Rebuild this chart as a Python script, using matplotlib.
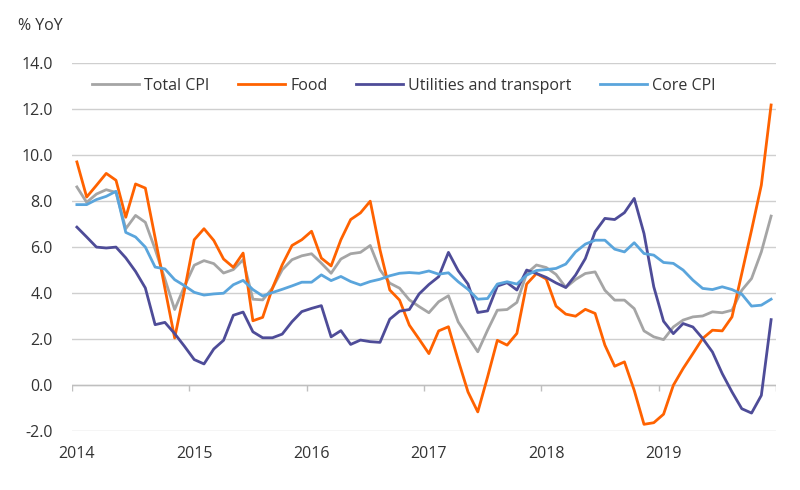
import numpy as np
from matplotlib import pyplot as plt

plt.rcParams['font.family'] = ['Open Sans', 'DejaVu Sans']

years = ["2014", "2015", "2016", "2017", "2018", "2019"]

total_cpi = [8.61, 7.94, 8.30, 8.49, 8.37, 6.79, 7.37, 7.07, 5.90, 4.60,
             3.27, 4.28, 5.20, 5.40, 5.27, 4.86, 5.01, 5.44, 3.72, 3.69,
             4.20, 5.00, 5.44, 5.61, 5.70, 5.29, 4.85, 5.47, 5.70, 5.76,
             6.06, 5.00, 4.42, 4.20, 3.69, 3.40, 3.13, 3.61, 3.87, 2.73,
             2.08, 1.43, 2.37, 3.24, 3.27, 3.58, 4.84, 5.21, 5.10, 4.80,
             4.23, 4.58, 4.84, 4.91, 4.11, 3.68, 3.68, 3.31, 2.34, 2.08,
             1.96, 2.51, 2.81, 2.95, 2.99, 3.17, 3.13, 3.24, 4.11, 4.62,
             5.78, 7.34]

food = [9.70, 8.17, 8.68, 9.20, 8.90, 7.29, 8.74, 8.56, 6.40, 4.20,
        2.03, 4.10, 6.31, 6.79, 6.28, 5.47, 5.11, 5.73, 2.78, 2.93,
        4.20, 5.22, 6.06, 6.31, 6.68, 5.51, 5.17, 6.31, 7.19, 7.48,
        7.99, 5.87, 4.12, 3.68, 2.59, 1.98, 1.35, 2.34, 2.52, 1.06,
        -0.32, -1.19, 0.33, 1.93, 1.72, 2.23, 4.38, 4.84, 4.60, 3.42,
        3.07, 2.98, 3.28, 3.10, 1.72, 0.80, 0.99, -0.25, -1.73, -1.66,
        -1.29, -0.03, 0.70, 1.35, 2.01, 2.37, 2.34, 2.95, 4.84, 6.73,
        8.69, 12.18]

utilities = [6.86, 6.43, 5.99, 5.95, 5.99, 5.52, 4.93, 4.21, 2.61, 2.71,
             2.22, 1.67, 1.09, 0.90, 1.55, 1.93, 3.02, 3.16, 2.30, 2.04,
             2.04, 2.20, 2.74, 3.18, 3.32, 3.44, 2.08, 2.35, 1.75, 1.94,
             1.87, 1.84, 2.85, 3.20, 3.27, 3.95, 4.36, 4.70, 5.76, 4.96,
             4.38, 3.14, 3.21, 4.29, 4.44, 4.12, 4.99, 4.84, 4.67, 4.43,
             4.23, 4.77, 5.49, 6.66, 7.24, 7.19, 7.49, 8.11, 6.58, 4.26,
             2.76, 2.22, 2.66, 2.51, 2.01, 1.42, 0.48, -0.32, -1.05, -1.24,
             -0.47, 2.83]

core_cpi = [7.84, 7.84, 8.06, 8.20, 8.42, 6.63, 6.43, 5.99, 5.12, 5.04,
            4.57, 4.31, 4.02, 3.90, 3.95, 3.98, 4.35, 4.54, 4.14, 3.86,
            4.01, 4.15, 4.30, 4.46, 4.46, 4.78, 4.53, 4.71, 4.49, 4.34,
            4.49, 4.59, 4.74, 4.85, 4.88, 4.85, 4.95, 4.81, 4.87, 4.48,
            4.15, 3.72, 3.75, 4.38, 4.48, 4.38, 4.77, 4.97, 5.01, 5.06,
            5.25, 5.78, 6.12, 6.29, 6.29, 5.90, 5.78, 6.18, 5.71, 5.64,
            5.32, 5.28, 4.99, 4.55, 4.19, 4.14, 4.26, 4.14, 3.94, 3.42,
            3.46, 3.72]

x = np.arange(len(total_cpi))
txt = "#333333"
grid = "#CFCFCF"

fig = plt.figure(figsize=(8, 4.9), dpi=100)
ax = fig.add_axes([0.09, 0.1214, 0.88, 0.7496])

ax.plot(x, total_cpi, color="#A5A5A5", lw=2, label="Total CPI")
ax.plot(x, food, color="#FF6200", lw=2, label="Food")
ax.plot(x, utilities, color="#4E4C98", lw=2, label="Utilities and transport")
ax.plot(x, core_cpi, color="#5AA5DC", lw=2, label="Core CPI")

ax.set_xlim(-0.5, len(x) - 0.5)
ax.set_ylim(-2, 14)
ax.set_yticks(np.arange(-2, 15, 2))
ax.set_yticklabels([f"{v:.1f}" for v in np.arange(-2, 15, 2)])
ax.grid(axis="y", color=grid, lw=1)
ax.set_axisbelow(True)
for s in ax.spines.values():
    s.set_visible(False)

# x axis sits at zero, tick marks at year boundaries
ax.axhline(0, color="#BFBFBF", lw=1, zorder=1)
bounds = np.arange(-0.5, len(x), 12)
ax.vlines(bounds, -0.27, 0, color="#BFBFBF", lw=1, zorder=1)

ax.set_xticks(np.arange(0, len(x), 12))
ax.set_xticklabels(years)
ax.tick_params(axis="x", length=0, pad=11, labelsize=11.5, colors=txt)
ax.tick_params(axis="y", length=0, pad=14, labelsize=11.5, colors=txt)

fig.text(18 / 800, 1 - 26 / 490, "% YoY", ha="left", va="center",
         fontsize=11.5, color=txt)

fig.legend(loc="center", bbox_to_anchor=(404 / 800, 1 - 86 / 490), ncol=4,
           frameon=False, fontsize=11.5, handlelength=2.9, handletextpad=0.35,
           columnspacing=1.8, labelcolor=txt)

plt.savefig("out.png")
